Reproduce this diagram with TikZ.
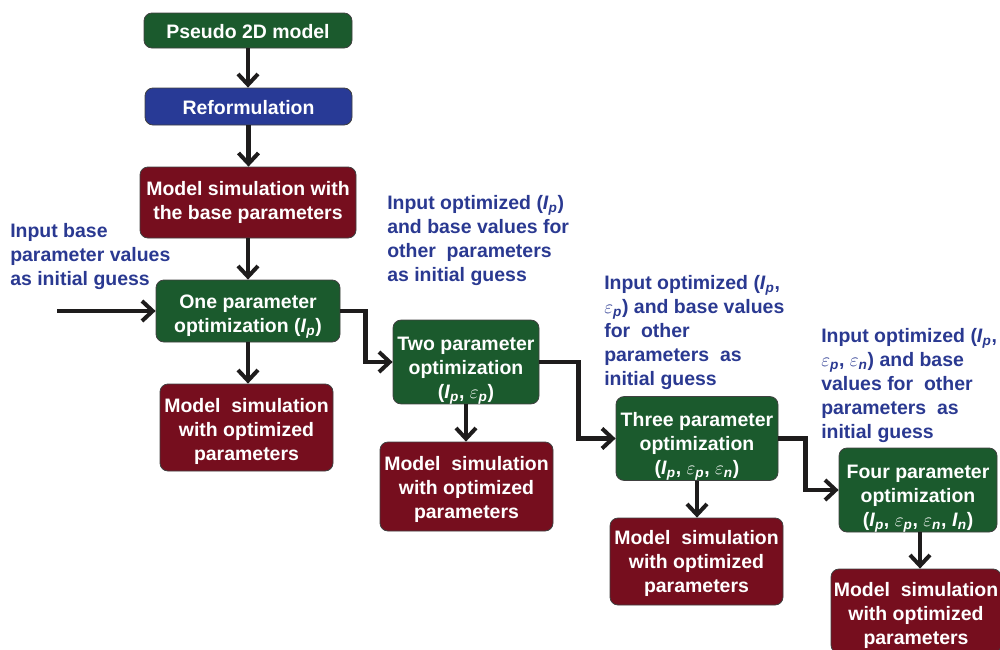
\documentclass[tikz,border=0pt]{standalone}
\usepackage{fontspec}
\setmainfont{Liberation Sans}
\usetikzlibrary{arrows.meta}
\definecolor{bgreen}{RGB}{27,90,45}
\definecolor{bblue}{RGB}{40,58,150}
\definecolor{bred}{RGB}{118,14,30}
\definecolor{tblue}{RGB}{42,57,145}
\definecolor{arrgray}{RGB}{30,28,28}
\newcommand{\myIp}{\textit{I}\textsubscript{\textit{p}}}
\newcommand{\myIn}{\textit{I}\textsubscript{\textit{n}}}
\newcommand{\myep}{$\varepsilon$\textsubscript{\textit{p}}}
\newcommand{\myen}{$\varepsilon$\textsubscript{\textit{n}}}
\newcommand{\mydn}[1]{\rule{0pt}{\dimexpr 10.6pt+1.5pt*#1\relax}}
\def\px{0.75pt}
\begin{document}
\begin{tikzpicture}[x=0.75pt,y=-0.75pt,
  box/.style={draw=black!75, line width=0.6pt, rounded corners=6pt, text=white,
    font=\bfseries\fontsize{14.6}{18}\selectfont, align=center, inner sep=0pt},
  gbox/.style={box, fill=bgreen},
  bbox/.style={box, fill=bblue},
  rbox/.style={box, fill=bred},
  note/.style={text=tblue, font=\bfseries\fontsize{14.6}{18}\selectfont, align=left, inner sep=0pt, anchor=north west},
  arr/.style={draw=arrgray, line width=3.2pt, -{Straight Barb[length=8pt,width=15pt,line width=3pt]}}]
\useasboundingbox (0,0) rectangle (1000,650);
\clip (0,0) rectangle (1000,650);

\node[gbox, minimum width=208*\px, minimum height=35*\px] (p2d) at (248,30.5) {\mydn{1}Pseudo 2D model};
\node[bbox, minimum width=207*\px, minimum height=37*\px] (ref) at (248.5,106.5) {\mydn{1}Reformulation};
\node[rbox, minimum width=216*\px, minimum height=71*\px] (base) at (248,202.5) {Model simulation with\\the base parameters};
\node[gbox, minimum width=184*\px, minimum height=62*\px] (one) at (248,311) {\mydn{5}One parameter\\optimization (\myIp)};
\node[rbox, minimum width=173*\px, minimum height=87*\px] (sim1) at (246.5,427.5) {\mydn{4}Model~ simulation\\with optimized\\parameters};
\node[gbox, minimum width=146*\px, minimum height=80*\px] (two) at (466,362) {\mydn{8}Two parameter\\optimization\\(\myIp, \myep)};
\node[rbox, minimum width=173*\px, minimum height=89*\px] (sim2) at (466.5,486.5) {\mydn{3}Model~ simulation\\with optimized\\parameters};
\node[gbox, minimum width=162*\px, minimum height=83*\px] (three) at (697,438.5) {\mydn{8}Three parameter\\optimization\\(\myIp, \myep, \myen)};
\node[rbox, minimum width=173*\px, minimum height=87*\px] (sim3) at (696.5,561.5) {\mydn{2}Model~ simulation\\with optimized\\parameters};
\node[gbox, minimum width=158*\px, minimum height=84*\px] (four) at (918,490) {\mydn{8}Four parameter\\optimization\\(\myIp, \myep, \myen, \myIn)};
\node[rbox, minimum width=170*\px, minimum height=84*\px] (sim4) at (916,611) {\mydn{4}Model~ simulation\\with optimized\\parameters};

\node[note] (t1) at (10,223) {Input base\\parameter values\\as initial guess};
\node[note] (t2) at (387,195) {Input optimized (\myIp)\\and base values for\\other~ parameters\\as initial guess};
\node[note] (t3) at (604,275) {Input optimized (\myIp,\\\myep) and base values\\for~ other\\parameters~ as\\initial guess};
\node[note] (t4) at (821,328) {Input optimized (\myIp,\\\myep, \myen) and base\\values for~ other\\parameters~ as\\initial guess};

\coordinate (in) at (57,311);
\draw[arr] (p2d.south) -- (p2d.south |- ref.north);
\draw[arr] (ref.south) -- (ref.south |- base.north);
\draw[arr] (base.south) -- (base.south |- one.north);
\draw[arr] (one.south) -- (one.south |- sim1.north);
\draw[arr] (in) -- (one.west);
\draw[arr] (one.east) -- ++(25,0) |- (two.west);
\draw[arr] (two.south) -- (two.south |- sim2.north);
\draw[arr] (two.east) -- ++(39,0) |- (three.west);
\draw[arr] (three.south) -- (three.south |- sim3.north);
\draw[arr] (three.east) -- ++(27,0) |- (four.west);
\draw[arr] ([xshift=2*\px]four.south) -- ([xshift=2*\px]four.south |- sim4.north);
\end{tikzpicture}
\end{document}
